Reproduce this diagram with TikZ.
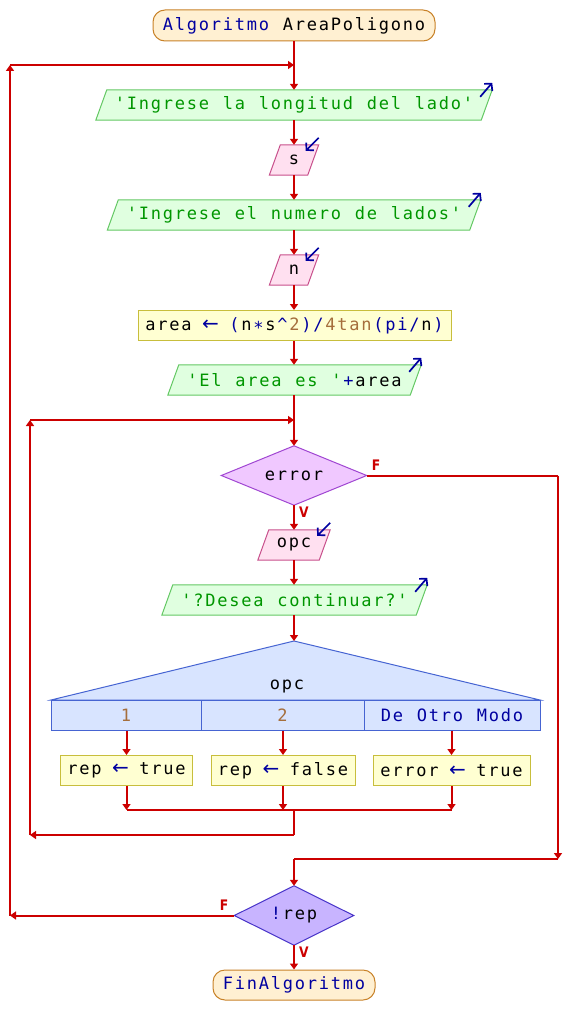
\documentclass[tikz,border=0pt]{standalone}
\usepackage{fontspec}
\setmonofont{DejaVu Sans Mono}
\setsansfont{DejaVu Sans}
\newfontfamily\arrfont{DejaVu Sans}
\newfontfamily\labfont[FakeStretch=0.85]{DejaVu Sans}
\usetikzlibrary{arrows.meta,shapes.geometric,backgrounds,calc}
\definecolor{flowred}{RGB}{204,0,0}
\definecolor{kwc}{RGB}{0,0,160}
\definecolor{strc}{RGB}{0,150,0}
\definecolor{numc}{RGB}{165,110,60}
\definecolor{termf}{RGB}{255,240,210}
\definecolor{termb}{RGB}{200,130,40}
\definecolor{outf}{RGB}{224,255,224}
\definecolor{outb}{RGB}{100,200,100}
\definecolor{inf}{RGB}{255,224,240}
\definecolor{inb}{RGB}{200,80,140}
\definecolor{asgf}{RGB}{255,255,210}
\definecolor{asgb}{RGB}{200,190,60}
\definecolor{errf}{RGB}{240,200,255}
\definecolor{errb}{RGB}{160,70,210}
\definecolor{repf}{RGB}{200,180,255}
\definecolor{repb}{RGB}{70,50,200}
\definecolor{swf}{RGB}{216,228,255}
\definecolor{swb}{RGB}{70,100,210}
\definecolor{iconc}{RGB}{0,0,160}
% fixed 12px character grid
\newcommand\mono[1]{\monoi#1\relax}
\def\monoi#1{\ifx\relax#1\else\makebox[12pt][c]{#1}\expandafter\monoi\fi}
\newcommand\caret{\symbol{94}}
\newcommand\K[1]{\textcolor{kwc}{\mono{#1}}}
\newcommand\Sg[1]{\textcolor{strc}{\mono{#1}}}
\newcommand\N[1]{\textcolor{numc}{\mono{#1}}}
\newcommand\M[1]{\mono{#1}}
\newcommand\lar{\textcolor{kwc}{\makebox[12pt][c]{\arrfont\fontsize{20}{20}\selectfont ←}}}
\newcommand\paral[2]{\begin{pgfonlayer}{background}\path[#2] ([xshift=-5.5pt]#1.south west) -- ([xshift=-5.5pt]#1.south east) -- ([xshift=5.5pt]#1.north east) -- ([xshift=5.5pt]#1.north west) -- cycle;\end{pgfonlayer}}
\newcommand\outicon[1]{\draw[icon] ($(#1.north east)+(-6.5,7)$) -- ($(#1.north east)+(5.5,-7)$);}
\newcommand\inicon[1]{\draw[icon] ($(#1.north east)+(5.5,-7)$) -- ($(#1.north east)+(-7.5,6)$);}
\newcommand\diam[2]{\begin{pgfonlayer}{background}\path[#2] (#1.north) -- (#1.east) -- (#1.south) -- (#1.west) -- cycle;\end{pgfonlayer}}
\begin{document}
\begin{tikzpicture}[x=1pt,y=-1pt,
  every node/.style={font=\ttfamily\fontsize{17}{18}\selectfont, inner sep=0pt, minimum height=30pt},
  line/.style={draw=flowred, line width=2pt},
  arr/.style={line, -{Triangle[length=6pt,width=8pt]}},
  icon/.style={draw=iconc, line width=1.7pt, -{Straight Barb[length=5pt,width=11pt,line width=1.7pt]}},
  term/.style={draw=termb, fill=termf, line width=1pt, rounded corners=12pt},
  outp/.style={draw=outb, fill=outf, line width=1pt},
  inp/.style={draw=inb, fill=inf, line width=1pt},
  asg/.style={draw=asgb, fill=asgf, line width=1pt, rectangle},
  errs/.style={draw=errb, fill=errf, line width=1pt},
  reps/.style={draw=repb, fill=repf, line width=1pt},
  sws/.style={draw=swb, fill=swf, line width=1pt},
  lab/.style={font=\labfont\bfseries\fontsize{14.5}{15}\selectfont, text=flowred, minimum height=0pt}
]
\begin{pgfonlayer}{background}
\fill[white] (0,0) rectangle (586,1035);
\end{pgfonlayer}
\useasboundingbox (0,0) rectangle (586,1035);

% nodes
\node[term, minimum width=282pt, minimum height=31pt] (start) at (294,25.5) {\K{Algoritmo}\M{~AreaPoligono}};
\coordinate (j1) at (294,65);
\node[minimum width=385pt] (in1) at (294,105) {\Sg{'Ingrese~la~longitud~del~lado'}};
\node[minimum width=38pt] (s) at (294,160) {\M{s}};
\node[minimum width=362pt] (in2) at (294,215) {\Sg{'Ingrese~el~numero~de~lados'}};
\node[minimum width=38pt] (n) at (294,270) {\M{n}};
\node[asg, minimum width=313pt] (asg) at (294.5,325.5) {\M{area~}\lar\M{~}\K{(}\M{n}\K{∗}\M{s}\K{\caret}\N{2}\K{)/}\N{4tan}\K{(pi/}\M{n}\K{)}};
\node[minimum width=242pt] (out) at (294.5,380) {\Sg{'El~area~es~'}\K{+}\M{area}};
\coordinate (j2) at (294,420);
\node[minimum width=145pt, minimum height=59pt] (err) at (294,475.5) {\M{error}};
\node[minimum width=61pt] (opc) at (294,545) {\M{opc}};
\node[minimum width=254pt] (des) at (294.5,600) {\Sg{'?Desea~continuar?'}};
\coordinate (swtop) at (294,641);
\node[minimum height=0pt] (sw) at (287,686) {\M{opc}};
\node[sws, minimum width=150pt] (c1) at (126,715) {\N{1}};
\node[sws, minimum width=163pt] (c2) at (282.5,715) {\N{2}};
\node[sws, minimum width=176pt] (c3) at (452,715) {\K{De~Otro~Modo}};
\node[asg, minimum width=132pt] (b1) at (126.5,770.5) {\M{rep~}\lar\M{~true}};
\node[asg, minimum width=144pt] (b2) at (283,770.5) {\M{rep~}\lar\M{~false}};
\node[asg, minimum width=157pt] (b3) at (451.5,770.5) {\M{error~}\lar\M{~true}};
\coordinate (m) at (294,810);
\coordinate (m2) at (294,835);
\coordinate (l2b) at (30,835);
\coordinate (l2t) at (30,420);
\coordinate (fr) at (558,475.5);
\coordinate (fb) at (558,859);
\coordinate (fc) at (294,859);
\node[minimum width=119pt, minimum height=59pt] (rep) at (294,915.5) {\K{!}\M{rep}};
\coordinate (l1b) at (10,915.5);
\coordinate (l1t) at (10,65);
\node[term, minimum width=162pt] (fin) at (294,985) {\K{FinAlgoritmo}};

% shapes
\paral{in1}{outp}\outicon{in1}
\paral{s}{inp}\inicon{s}
\paral{in2}{outp}\outicon{in2}
\paral{n}{inp}\inicon{n}
\paral{out}{outp}\outicon{out}
\paral{opc}{inp}\inicon{opc}
\paral{des}{outp}\outicon{des}
\diam{err}{errs}
\diam{rep}{reps}
\begin{pgfonlayer}{background}
\path[sws] (swtop) -- (540,700) -- (51,700) -- cycle;
\end{pgfonlayer}

% connectors
\draw[line] (start.south) -- (j1);
\draw[arr] (j1) -- (in1.north);
\draw[arr] (in1.south) -- (s.north);
\draw[arr] (s.south) -- (in2.north);
\draw[arr] (in2.south) -- (n.north);
\draw[arr] (n.south) -- (asg.north -| n.south);
\draw[arr] (asg.south -| n.south) -- (out.north -| n.south);
\draw[line] (out.south -| j2) -- (j2);
\draw[arr] (j2) -- (err.north);
\draw[arr] (err.south) -- (opc.north);
\draw[arr] (opc.south) -- (des.north -| opc.south);
\draw[arr] (des.south -| swtop) -- (swtop);
\draw[arr] (b1.north |- c1.south) -- (b1.north);
\draw[arr] (b2.north |- c2.south) -- (b2.north);
\draw[arr] (b3.north |- c3.south) -- (b3.north);
\draw[arr] (b1.south) -- (b1.south |- m);
\draw[arr] (b2.south) -- (b2.south |- m);
\draw[arr] (b3.south) -- (b3.south |- m);
\draw[line] (b1.south |- m) -- (b3.south |- m);
\draw[line] (m) -- (m2);
\draw[arr] (m2) -- (l2b);
\draw[arr] (l2b) -- (l2t);
\draw[arr] (l2t) -- (j2);
\draw[line] (err.east) -- (fr);
\draw[arr] (fr) -- (fb);
\draw[line] (fb) -- (fc);
\draw[arr] (fc) -- (rep.north);
\draw[arr] (rep.west) -- (l1b);
\draw[arr] (l1b) -- (l1t);
\draw[arr] (l1t) -- (j1);
\draw[arr] (rep.south) -- (fin.north);

% labels
\node[lab] (f1) at (376,465) {F};
\node[lab] (v1) at (304,512) {V};
\node[lab] (f2) at (224,905) {F};
\node[lab] (v2) at (304,952) {V};
\end{tikzpicture}
\end{document}
